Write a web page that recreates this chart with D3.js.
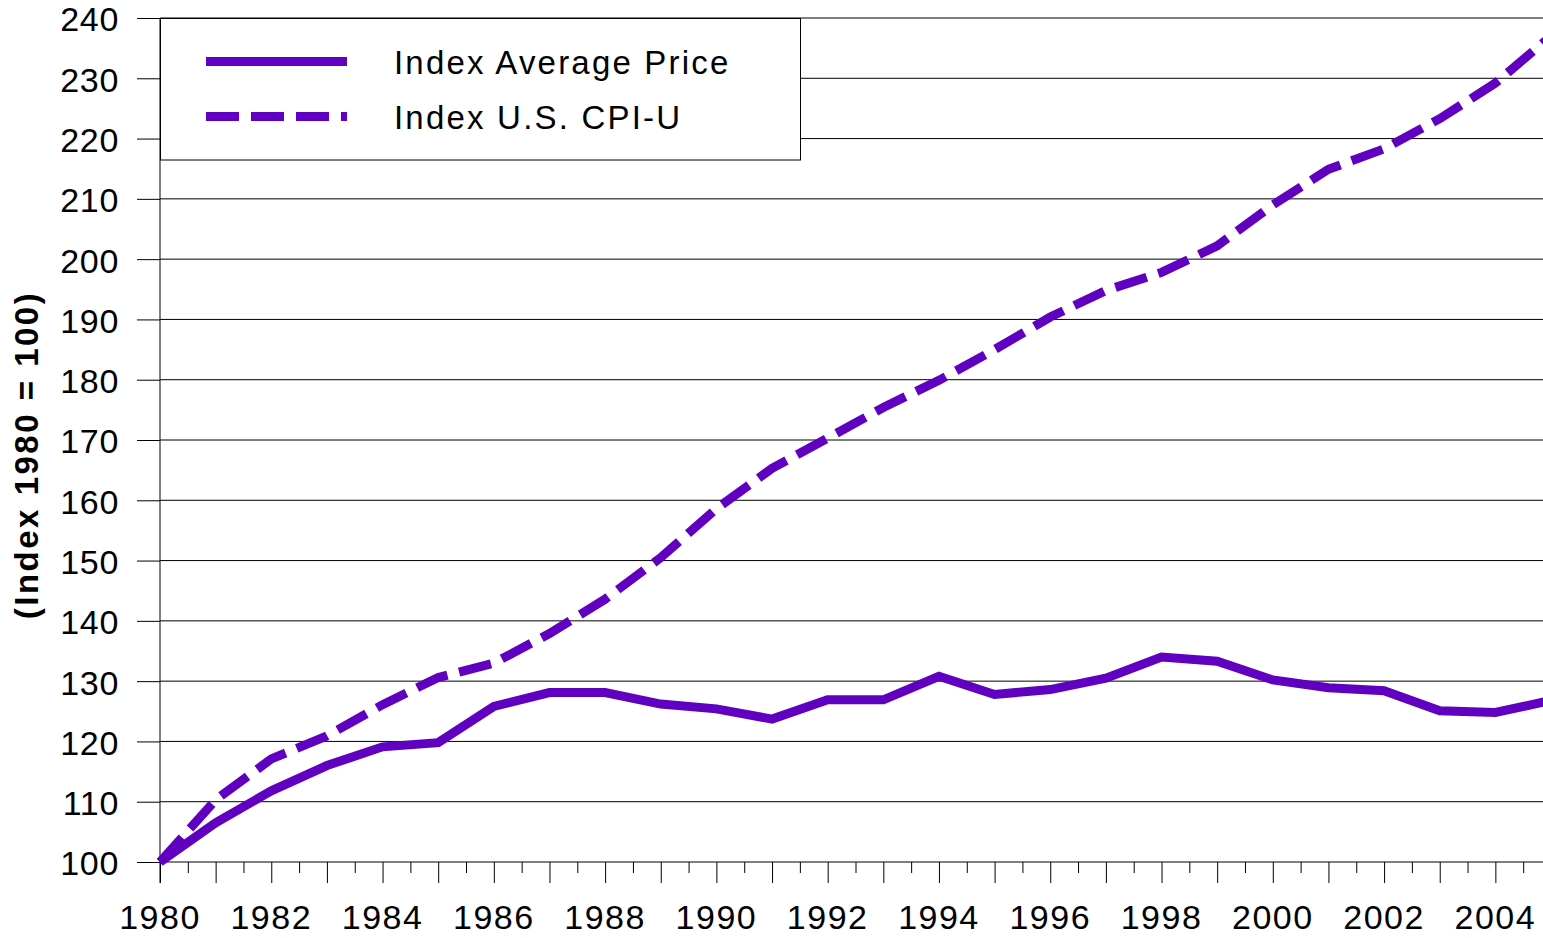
<!DOCTYPE html>
<html>
<head>
<meta charset="utf-8">
<script src="https://cdn.jsdelivr.net/npm/d3@7"></script>
<style>
  html, body { margin: 0; padding: 0; background: #fff; }
  svg { display: block; font-family: "Liberation Sans", Arial, sans-serif; }
</style>
</head>
<body>
<svg id="chart" width="1543" height="938"></svg>
<script>
// ---- data ----
const years = [1980,1981,1982,1983,1984,1985,1986,1987,1988,1989,1990,1991,1992,
               1993,1994,1995,1996,1997,1998,1999,2000,2001,2002,2003,2004,2005];
const avgPrice = [100,106.5,111.8,116.0,119.1,119.8,125.8,128.1,128.1,126.2,125.4,123.7,126.9,
                  126.9,130.8,127.8,128.6,130.5,134.0,133.3,130.2,128.9,128.4,125.1,124.8,126.8];
const cpiU = [100,110.3,117.1,120.9,126.1,130.6,133.0,137.9,143.6,150.5,158.6,165.3,170.3,
              175.4,179.9,185.0,190.4,194.8,197.8,202.2,209.0,214.9,218.3,223.3,229.2,237.0];
const yTicks = [100,110,120,130,140,150,160,170,180,190,200,210,220,230,240];
const xLabelYears = [1980,1982,1984,1986,1988,1990,1992,1994,1996,1998,2000,2002,2004];
const seriesNames = ["Index Average Price", "Index U.S. CPI-U"];
const yTitle = "(Index 1980 = 100)";

// ---- layout ----
const svg = d3.select("#chart");
const W = 1543, H = 938;
svg.append("rect").attr("width", W).attr("height", H).attr("fill", "#fff");

const x = d3.scaleLinear().domain([1980, 2005]).range([160, 1551]);
const y = d3.scaleLinear().domain([100, 240]).range([862, 18]);
const color = "#6000C0";
const fontSize = 34;

// gridlines
svg.append("g").selectAll("line").data(yTicks.filter(d => d > 100)).join("line")
  .attr("x1", 160).attr("x2", W)
  .attr("y1", d => y(d)).attr("y2", d => y(d))
  .attr("stroke", "#000").attr("stroke-width", 1);

// y axis
const yAxis = d3.axisLeft(y).tickValues(yTicks).tickSize(23).tickPadding(18).tickFormat(d3.format("d"));
const gy = svg.append("g").attr("transform", "translate(160,0)").call(yAxis);
gy.select(".domain").attr("stroke", "#000").attr("d", "M0,18V883");
gy.selectAll(".tick line").attr("stroke", "#000");
gy.selectAll(".tick text").attr("font-size", fontSize).attr("fill", "#000")
  .attr("font-family", "Liberation Sans, Arial, sans-serif")
  .style("letter-spacing", "0.7px").attr("dy", "0.38em");

// x axis: long ticks at years, short ticks at half years
const halfYears = d3.range(1980.5, 2005, 1);
const gxMinor = svg.append("g").attr("transform", "translate(0,862)")
  .call(d3.axisBottom(x).tickValues(halfYears).tickSize(11).tickFormat(""));
gxMinor.select(".domain").remove();
gxMinor.selectAll(".tick line").attr("stroke", "#000");

const gx = svg.append("g").attr("transform", "translate(0,862)")
  .call(d3.axisBottom(x).tickValues(years).tickSize(21).tickFormat(""));
gx.select(".domain").attr("stroke", "#000").attr("d", "M160,0H" + W);
gx.selectAll(".tick line").attr("stroke", "#000");

svg.append("g").selectAll("text").data(xLabelYears).join("text")
  .attr("x", d => x(d)).attr("y", 929)
  .attr("text-anchor", "middle")
  .attr("font-size", fontSize).attr("fill", "#000")
  .style("letter-spacing", "1.5px")
  .text(d => d);

// y title
svg.append("text")
  .attr("transform", "translate(38,455) rotate(-90)")
  .attr("text-anchor", "middle")
  .attr("font-size", 33).attr("font-weight", "bold").attr("fill", "#000")
  .style("letter-spacing", "2.5px")
  .text(yTitle);

// lines
const line = d3.line().x((d, i) => x(years[i])).y(d => y(d));
svg.append("path").datum(cpiU).attr("d", line)
  .attr("fill", "none").attr("stroke", color).attr("stroke-width", 9)
  .attr("stroke-dasharray", "33,12").attr("stroke-linejoin", "miter");
svg.append("path").datum(avgPrice).attr("d", line)
  .attr("fill", "none").attr("stroke", color).attr("stroke-width", 9)
  .attr("stroke-linejoin", "miter");

// legend
const lg = svg.append("g");
lg.append("rect").attr("x", 160.5).attr("y", 18.5).attr("width", 640).attr("height", 141.5)
  .attr("fill", "#fff").attr("stroke", "#000").attr("stroke-width", 1);
const legendY = [61.5, 116.5];
seriesNames.forEach((name, i) => {
  lg.append("line").attr("x1", 206).attr("x2", 347)
    .attr("y1", legendY[i]).attr("y2", legendY[i])
    .attr("stroke", color).attr("stroke-width", 9)
    .attr("stroke-dasharray", i === 1 ? "33,12" : null);
  lg.append("text").attr("x", 394).attr("y", legendY[i] + 12.5)
    .attr("font-size", 33).attr("fill", "#000")
    .style("letter-spacing", "2.2px")
    .text(name);
});
</script>
</body>
</html>
